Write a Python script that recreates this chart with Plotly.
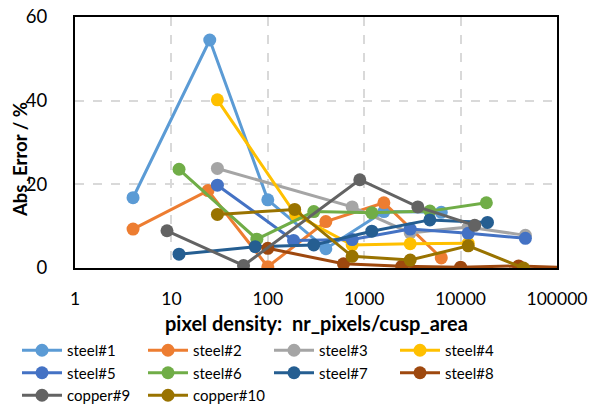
import plotly.graph_objects as go

names = ["steel#1", "steel#2", "steel#3", "steel#4", "steel#5",
         "steel#6", "steel#7", "steel#8", "copper#9", "copper#10"]
colors = ["#5B9BD5", "#ED7D31", "#A5A5A5", "#FFC000", "#4472C4",
          "#70AD47", "#255E91", "#9E480E", "#636363", "#997300"]

x_s1 = [4, 25, 100, 400, 1600, 6300]
y_s1 = [16.8, 54.5, 16.3, 4.6, 13.5, 13.3]
x_s2 = [4, 24, 100, 400, 1600, 6300]
y_s2 = [9.3, 18.5, 0.3, 11.1, 15.6, 2.4]
x_s3 = [30, 750, 3000, 12000, 47000]
y_s3 = [23.8, 14.6, 8.4, 9.8, 7.8]
x_s4 = [30, 195, 750, 3000, 12000]
y_s4 = [40.2, 12.7, 5.5, 5.8, 5.9]
x_s5 = [30, 185, 750, 3000, 12000, 47000]
y_s5 = [19.8, 6.6, 6.8, 9.3, 8.3, 7.1]
x_s6 = [12, 77, 300, 1200, 4800, 18500]
y_s6 = [23.6, 6.9, 13.5, 13.2, 13.6, 15.6]
x_s7 = [12, 74, 300, 1200, 4800, 19000]
y_s7 = [3.3, 5.1, 5.5, 8.8, 11.5, 10.9]
x_s8 = [100, 610, 2450, 10000, 40000, 160000]
y_s8 = [4.7, 1.0, 0.4, 0.2, 0.5, 0.0]
x_c9 = [9, 56, 900, 3600, 14000]
y_c9 = [8.9, 0.6, 21.1, 14.6, 10.2]
x_c10 = [30, 190, 750, 3000, 12000, 45000]
y_c10 = [12.8, 14.0, 2.8, 1.9, 5.3, 0.0]

xs = [x_s1, x_s2, x_s3, x_s4, x_s5, x_s6, x_s7, x_s8, x_c9, x_c10]
ys = [y_s1, y_s2, y_s3, y_s4, y_s5, y_s6, y_s7, y_s8, y_c9, y_c10]

x_ticks = [1, 10, 100, 1000, 10000, 100000]
x_tick_labels = ["1", "10", "100", "1000", "10000", "100000"]
y_ticks = [0, 20, 40, 60]

FONT = "Lato"

fig = go.Figure()
for n, c, x, y in zip(names, colors, xs, ys):
    fig.add_trace(go.Scatter(
        x=x, y=y, name=n, mode="lines+markers",
        line=dict(color=c, width=3),
        marker=dict(color=c, size=13),
    ))

fig.update_layout(
    width=595, height=405,
    margin=dict(l=75, r=38, t=17, b=137, autoexpand=False),
    paper_bgcolor="white", plot_bgcolor="white",
    font=dict(family=FONT, color="black"),
    showlegend=True,
    legend=dict(
        orientation="h", xref="paper", yref="paper",
        x=(17 - 75) / 482, y=(268 - 334) / 251, xanchor="left", yanchor="top",
        entrywidth=71, entrywidthmode="pixels",
        font=dict(size=15, family=FONT), tracegroupgap=0,
        itemwidth=40,
    ),
    xaxis=dict(
        type="log", range=[0, 5],
        tickvals=x_ticks, ticktext=x_tick_labels,
        showgrid=True, gridcolor="#D9D9D9", griddash="dash", gridwidth=1.5,
        showline=True, linecolor="black", linewidth=2, mirror=True,
        ticks="", tickfont=dict(size=17.5, family=FONT),
        ticklabelstandoff=14, zeroline=False,
    ),
    yaxis=dict(
        range=[0, 60], tickvals=y_ticks,
        showgrid=True, gridcolor="#D9D9D9", griddash="dash", gridwidth=1.5,
        showline=True, linecolor="black", linewidth=2, mirror=True,
        ticks="", tickfont=dict(size=18.5, family=FONT),
        ticklabelstandoff=22, zeroline=False,
    ),
    annotations=[
        dict(text="<b>pixel density:  nr_pixels/cusp_area</b>",
             xref="paper", yref="paper", x=0.5, y=(268 - 323) / 251,
             xanchor="center", yanchor="middle", showarrow=False,
             font=dict(size=20, family=FONT)),
        dict(text="<b>Abs_Error / %</b>",
             xref="paper", yref="paper", x=(20 - 75) / 482, y=(268 - 160) / 251,
             xanchor="center", yanchor="middle", showarrow=False,
             textangle=-90, font=dict(size=18.5, family=FONT)),
    ],
)

fig.write_html("out.html")
